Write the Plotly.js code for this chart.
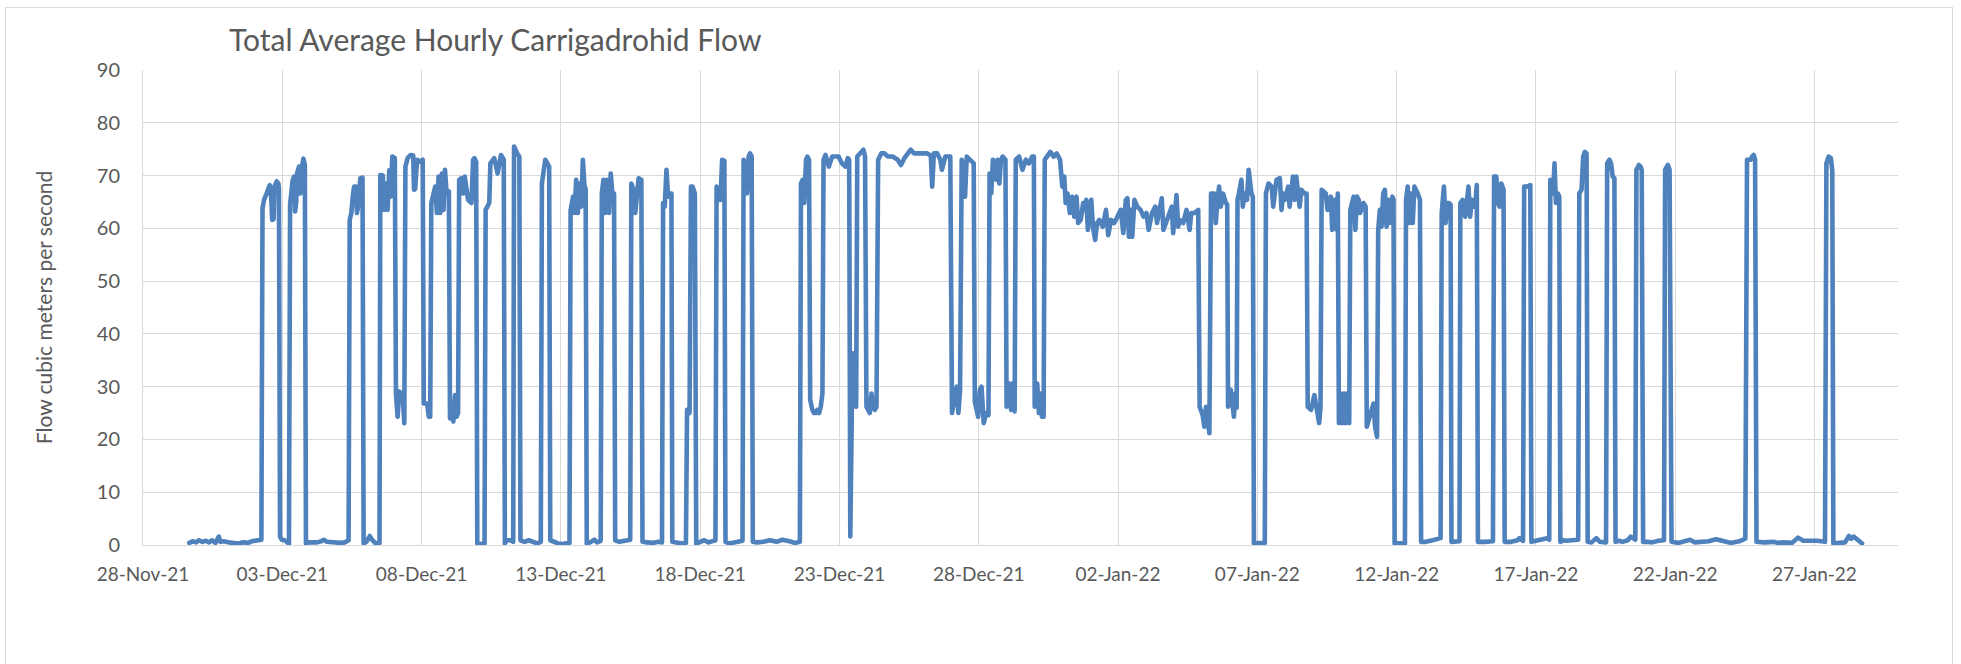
<!DOCTYPE html>
<html>
<head>
<meta charset="utf-8">
<script src="https://cdn.plot.ly/plotly-3.0.1.min.js"></script>
<style>
  html, body { margin: 0; padding: 0; background: #ffffff; }
  #wrap { position: relative; width: 1961px; height: 664px; overflow: hidden; }
  #chart { position: absolute; left: 0; top: 0; width: 1961px; height: 664px; }
  #frame { position: absolute; left: 5px; top: 7px; width: 1946px; height: 670px; border: 1px solid #d9d9d9; pointer-events: none; }
  .js-line { stroke-linejoin: round; stroke-linecap: round; }
</style>
</head>
<body>
<div id="wrap">
  <div id="chart"></div>
  <div id="frame"></div>
</div>
<script>
// Readings: time in days since 28-Nov-21 00:00, flow in m3/s
const startDate = '2021-11-28';
const dayOffset = [
  1.66,1.78,1.90,2.01,2.13,2.25,2.37,2.48,2.60,2.72,2.78,2.90,3.07,3.25,3.43,3.60,3.78,3.90,4.02,4.20,4.25,
  4.29,4.35,4.43,4.50,4.55,4.60,4.64,4.69,4.72,4.80,4.86,4.88,
  4.92,4.98,5.08,5.18,5.24,
  5.28,5.33,5.37,5.42,5.46,5.50,5.53,5.60,5.65,5.70,5.76,5.81,
  5.85,5.95,6.10,6.25,6.40,6.49,6.60,6.72,6.85,6.96,7.10,7.25,7.38,
  7.42,7.48,7.53,7.58,7.64,7.68,7.74,7.80,7.88,
  7.92,8.02,8.10,8.14,8.22,8.35,8.49,
  8.52,8.61,8.66,8.72,8.78,8.84,8.89,8.95,9.04,
  9.08,9.14,9.20,9.26,9.32,9.38,
  9.42,9.50,9.61,9.70,9.73,9.77,9.84,9.95,10.04,
  10.08,10.20,10.26,10.31,
  10.35,10.43,10.49,10.55,10.61,10.67,10.73,10.79,10.84,10.90,10.98,
  11.02,11.08,11.14,11.20,11.26,11.31,
  11.35,11.43,11.49,11.55,11.67,11.79,11.85,11.90,11.96,
  12.00,12.10,12.26,
  12.30,12.43,12.47,12.55,12.61,12.73,12.85,12.95,
  12.99,13.05,13.20,13.29,
  13.32,13.43,13.51,
  13.55,13.70,13.85,14.00,14.15,14.28,
  14.32,14.44,14.52,14.58,
  14.62,14.75,14.90,15.05,15.20,15.31,
  15.35,15.44,15.49,15.55,15.61,15.67,15.73,15.79,15.85,15.89,
  15.93,16.05,16.20,16.30,16.43,
  16.47,16.53,16.59,16.65,16.73,16.79,16.85,16.91,
  16.95,17.10,17.30,17.49,
  17.53,17.61,17.67,17.73,17.79,17.89,
  17.93,18.10,18.30,18.50,18.63,
  18.67,18.73,18.79,18.85,18.91,18.97,
  19.00,19.20,19.35,19.49,
  19.53,19.62,19.67,19.73,19.81,
  19.86,20.00,20.15,20.30,20.45,20.55,
  20.59,20.68,20.73,20.79,20.87,
  20.91,21.05,21.21,21.35,21.52,
  21.56,21.65,21.68,21.74,21.79,21.85,
  21.89,22.05,22.27,22.50,22.74,22.95,23.21,23.40,23.58,
  23.62,23.68,23.74,23.80,23.85,23.91,
  23.95,24.03,24.09,24.15,24.21,24.27,24.33,24.39,
  24.43,24.50,24.62,24.74,24.86,24.97,25.09,25.21,25.30,25.35,
  25.39,25.47,25.52,25.60,
  25.64,25.74,25.86,25.92,
  25.97,26.09,26.15,26.21,26.27,26.33,
  26.39,26.50,26.62,26.74,26.92,27.09,27.21,27.33,27.45,27.56,27.68,27.92,28.15,28.28,28.33,28.39,28.51,28.62,28.68,28.80,28.98,
  29.04,29.15,29.21,29.27,29.33,
  29.39,29.51,29.57,29.68,29.82,
  29.86,29.98,30.04,30.10,30.18,30.27,30.35,
  30.39,30.45,30.51,30.57,30.63,30.68,30.74,30.80,30.86,30.96,
  31.00,31.10,31.16,31.21,31.29,
  31.33,31.45,31.57,31.69,31.80,31.92,31.98,
  32.01,32.10,32.16,32.22,32.27,32.33,
  32.37,32.45,32.57,32.69,32.80,32.92,33.00,33.07,33.12,33.19,33.27,33.36,33.43,33.51,33.57,33.66,33.75,33.80,33.86,33.92,
  33.98,34.04,34.10,34.18,34.25,34.33,34.45,34.57,34.65,34.75,34.86,34.98,35.10,35.19,35.28,35.34,35.39,35.45,35.51,35.59,
  35.69,35.81,35.92,36.02,36.10,36.22,36.34,36.40,36.49,36.57,36.63,36.75,36.87,36.93,36.98,37.04,37.10,37.16,37.22,37.34,
  37.46,37.57,37.63,37.75,37.88,
  37.93,38.04,38.10,38.16,38.28,
  38.34,38.46,38.51,38.57,38.63,38.69,38.77,38.87,38.92,
  38.95,39.05,39.16,39.22,39.26,
  39.29,39.34,39.43,39.48,39.55,39.63,39.69,39.79,39.84,
  39.88,40.05,40.27,
  40.31,40.40,40.52,40.57,40.63,40.69,40.81,40.87,40.93,40.99,41.11,41.16,41.28,41.34,41.40,41.46,41.52,41.58,41.69,41.77,
  41.81,41.93,42.05,42.14,42.22,42.27,
  42.31,42.46,42.52,42.64,42.69,42.78,42.85,42.89,
  42.93,42.99,43.05,43.11,43.17,43.22,43.30,
  43.34,43.40,43.46,43.52,43.58,43.64,43.69,43.81,43.89,
  43.93,44.05,44.17,44.23,44.30,
  44.34,44.40,44.46,44.52,44.58,44.64,44.70,44.75,44.85,44.89,
  44.93,45.10,45.30,
  45.34,45.40,45.46,45.52,45.58,45.64,45.76,45.84,
  45.88,46.05,46.29,46.58,
  46.62,46.70,46.76,46.82,46.88,46.94,
  46.97,47.11,47.26,
  47.29,47.37,47.46,47.52,47.58,47.64,47.70,47.76,47.82,47.88,
  47.92,48.17,48.46,
  48.50,48.58,48.64,48.70,48.76,48.84,
  48.88,49.11,49.35,49.41,49.54,
  49.58,49.68,49.76,49.80,
  49.84,50.17,50.41,50.48,
  50.52,50.62,50.67,50.72,50.79,50.84,
  50.88,51.00,51.11,51.30,51.52,
  51.56,51.64,51.70,51.76,51.82,
  51.86,52.00,52.17,52.30,52.52,
  52.56,52.64,52.70,52.76,52.82,
  52.86,53.00,53.11,53.30,53.41,53.57,
  53.61,53.70,53.76,53.80,
  53.85,54.00,54.17,54.40,54.60,
  54.64,54.74,54.80,
  54.87,55.12,55.30,55.53,55.70,55.94,56.20,56.47,56.70,57.00,57.30,57.52,
  57.58,57.71,57.76,57.82,57.87,
  57.92,58.20,58.53,58.70,58.88,59.20,59.41,59.60,59.83,60.10,60.38,
  60.43,60.51,60.59,60.64,
  60.68,60.90,61.10,61.24,61.32,61.41,61.59,61.71
];
const flowValues = [
  0.4,0.7,0.5,0.9,0.6,0.8,0.5,0.9,0.4,1.6,0.6,0.7,0.5,0.4,0.3,0.5,0.4,0.7,0.8,0.9,1.0,
  63.8,65.5,66.5,67.8,68.2,66.0,61.6,61.8,68.0,68.9,68.5,67.5,
  1.6,1.0,0.9,0.5,0.2,
  64.5,67.5,69.0,69.8,63.2,65.0,70.4,71.7,66.6,71.5,73.2,72.0,
  0.3,0.5,0.4,0.5,0.7,1.0,0.6,0.5,0.4,0.3,0.4,0.5,0.9,
  61.6,62.9,66.0,67.9,67.9,62.9,64.8,69.5,69.6,
  0.3,0.6,1.2,1.7,1.0,0.3,0.4,
  70.1,70.0,63.5,68.5,63.5,71.0,66.0,73.6,73.3,
  28.7,24.3,29.1,28.7,28.7,23.1,
  71.7,73.3,73.9,73.8,67.3,67.5,73.0,72.6,73.0,
  26.8,26.8,24.3,24.3,
  64.8,66.6,67.9,62.9,69.8,62.9,70.4,63.5,71.1,66.6,67.0,
  24.0,26.2,23.4,28.4,24.3,25.0,
  69.2,69.5,66.6,69.8,65.4,64.8,73.0,73.3,72.6,
  0.3,0.2,0.3,
  63.5,64.8,72.3,73.0,73.3,70.4,73.9,73.0,
  0.3,0.9,0.9,0.6,
  75.5,74.2,73.6,
  0.9,0.6,0.9,0.5,0.3,0.6,
  68.5,73.0,72.3,71.7,
  0.9,0.6,0.3,0.2,0.3,0.4,
  63.5,66.0,62.9,69.2,62.9,68.5,64.1,73.0,67.9,67.5,
  0.3,0.5,1.0,0.5,0.8,
  66.6,69.2,62.9,69.2,62.9,70.4,66.6,66.6,
  0.9,0.6,0.7,1.0,
  68.5,67.3,62.9,67.9,69.5,69.2,
  0.6,0.5,0.4,0.6,0.5,
  64.8,64.1,71.1,66.0,66.6,66.6,
  0.6,0.4,0.3,0.4,
  25.6,25.0,67.9,67.9,66.6,
  0.3,0.6,0.9,0.5,0.7,0.9,
  67.9,65.4,65.4,73.0,72.8,
  0.6,0.3,0.4,0.6,0.8,
  73.0,70.0,66.6,73.6,74.2,73.6,
  0.6,0.5,0.6,0.9,0.6,1.0,0.7,0.4,0.6,
  68.5,69.2,64.8,73.0,73.6,73.0,
  27.5,25.6,25.0,25.0,25.6,25.0,26.2,28.7,
  73.0,73.9,71.7,73.6,73.6,73.6,72.3,71.7,73.3,73.0,
  1.6,36.3,26.8,26.2,
  73.6,74.2,74.9,73.6,
  26.2,25.0,28.7,26.2,25.6,26.2,
  73.0,74.2,74.2,73.6,73.6,73.0,72.0,73.3,74.2,74.9,74.2,74.2,74.2,73.8,67.9,74.2,74.2,73.0,71.1,73.6,73.6,
  25.0,28.7,30.0,25.0,29.4,
  73.0,66.0,73.6,73.0,72.3,
  27.2,24.3,29.4,30.0,23.1,25.0,24.6,
  70.4,66.6,73.0,72.3,69.2,73.0,68.5,73.0,73.6,73.0,
  26.2,30.6,25.6,30.6,25.3,
  73.0,73.6,71.1,73.0,72.3,73.6,73.6,
  26.2,30.6,25.0,28.7,24.3,24.3,
  73.0,73.6,74.5,73.6,74.2,73.0,67.9,69.8,64.8,66.6,62.9,66.0,62.2,66.0,61.0,61.6,64.8,63.5,65.4,59.7,
  64.1,65.4,60.3,57.8,61.0,61.6,60.3,63.5,58.7,61.6,61.0,62.2,63.5,59.1,65.4,65.7,58.4,63.5,58.4,65.4,
  64.1,63.5,62.2,62.9,59.7,62.9,64.1,61.0,64.1,65.7,59.7,61.6,62.9,64.1,59.1,62.2,66.3,60.3,61.6,61.0,
  63.5,59.7,62.9,62.9,63.5,
  26.2,24.6,22.4,26.2,21.2,
  66.6,66.6,61.0,65.4,67.9,64.1,66.6,64.8,64.5,
  26.2,29.4,24.3,28.7,26.0,
  65.4,66.6,69.2,64.1,66.6,65.4,71.1,66.6,66.0,
  0.3,0.3,0.4,
  66.6,68.5,67.9,64.1,66.6,69.2,69.5,63.5,66.6,65.4,67.9,64.1,69.8,65.4,69.8,66.6,64.1,67.3,66.6,66.6,
  26.2,25.6,28.4,25.6,23.1,26.2,
  67.3,66.6,63.5,66.0,59.7,65.4,59.7,66.6,
  23.1,28.7,23.1,28.7,23.1,28.7,23.1,
  63.5,65.4,66.0,59.7,66.0,65.4,62.9,64.8,64.1,
  22.4,25.0,26.8,22.4,20.5,
  59.7,63.5,60.3,66.6,67.3,60.3,65.4,61.0,66.0,65.5,
  0.3,0.3,0.3,
  65.4,67.9,61.0,66.6,61.0,67.9,66.6,65.4,
  0.6,0.6,0.9,1.3,
  62.9,67.9,61.0,64.8,64.8,64.5,
  0.6,0.6,0.7,
  64.8,65.4,62.2,64.8,67.9,62.2,65.4,64.1,64.1,68.2,
  0.6,0.6,0.7,
  69.8,69.8,64.8,64.1,68.5,67.3,
  0.6,0.6,0.9,1.3,0.8,
  67.9,67.9,68.2,68.2,
  0.6,0.9,1.3,1.0,
  69.2,66.6,72.3,64.8,66.6,66.0,
  0.6,0.9,0.8,0.9,1.0,
  66.6,67.3,73.6,74.5,74.2,
  0.6,0.5,1.3,0.6,0.5,
  72.3,73.0,72.3,69.8,69.5,
  0.6,0.8,0.6,0.9,1.6,1.0,
  71.1,72.0,71.7,71.1,
  0.6,0.6,0.5,0.8,0.9,
  71.1,72.0,71.1,
  0.6,0.4,0.6,1.0,0.5,0.5,0.7,1.1,0.8,0.4,0.7,1.2,
  73.0,73.0,73.6,73.9,73.0,
  0.6,0.5,0.6,0.4,0.5,0.4,1.4,0.8,0.9,0.8,0.6,
  72.3,73.6,73.3,71.0,
  0.3,0.4,0.5,1.7,1.2,1.6,0.9,0.3
];
const chartTitle = 'Total Average Hourly Carrigadrohid Flow';
const yTitle = 'Flow cubic meters per second';
const xRange = ['2021-11-28', '2022-01-30'];
const yRange = [0, 90];

const startMs = Date.parse(startDate + 'T00:00:00Z');
function toStamp(d) {
  return new Date(startMs + d * 86400000).toISOString().replace('T', ' ').slice(0, 19);
}
const xs = dayOffset.map(toStamp);

const FONT = 'Lato, "Liberation Sans", sans-serif';
const GRID = '#d9d9d9';
const TXT = '#595959';

const trace = {
  type: 'scatter',
  mode: 'lines',
  x: xs,
  y: flowValues,
  line: { color: '#4f81bd', width: 4.6 },
  hoverinfo: 'skip'
};

const layout = {
  width: 1961,
  height: 664,
  margin: { l: 143, r: 63, t: 70, b: 119, pad: 0 },
  paper_bgcolor: 'rgba(0,0,0,0)',
  plot_bgcolor: '#ffffff',
  showlegend: false,
  font: { family: FONT, color: TXT },
  title: {
    text: chartTitle,
    font: { family: FONT, size: 30, color: TXT },
    x: 229 / 1961, xanchor: 'left', xref: 'container',
    y: 1 - 40 / 664, yanchor: 'middle', yref: 'container'
  },
  xaxis: {
    type: 'date',
    range: xRange,
    tick0: startDate,
    dtick: 5 * 86400000,
    tickformat: '%d-%b-%y',
    showgrid: true, gridcolor: GRID, gridwidth: 1,
    showline: true, linecolor: GRID, linewidth: 1,
    zeroline: false,
    ticks: '',
    ticklabelstandoff: 12,
    tickfont: { family: FONT, size: 19, color: TXT }
  },
  yaxis: {
    range: yRange,
    dtick: 10,
    tick0: 0,
    showgrid: true, gridcolor: GRID, gridwidth: 1,
    showline: true, linecolor: GRID, linewidth: 1,
    zeroline: false,
    ticks: '',
    ticklabelstandoff: 18,
    tickfont: { family: FONT, size: 20, color: TXT },
    title: { text: yTitle, font: { family: FONT, size: 21, color: TXT }, standoff: 38 }
  }
};

Plotly.newPlot('chart', [trace], layout, { staticPlot: true, displayModeBar: false });
</script>
</body>
</html>
